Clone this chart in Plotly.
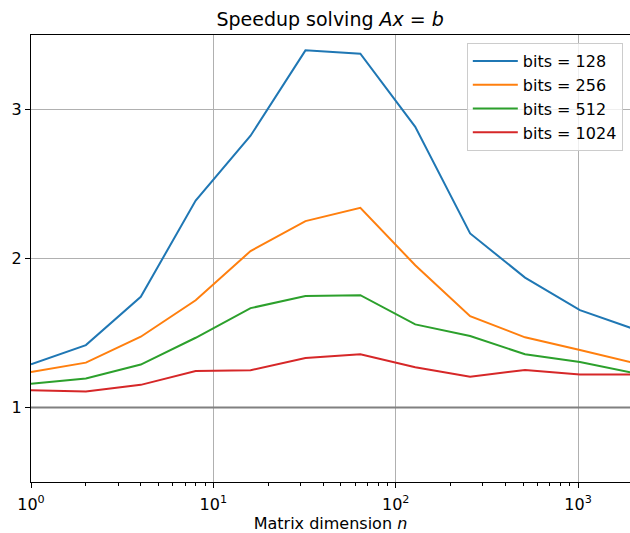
import plotly.graph_objects as go

n_values = [1, 2, 4, 8, 16, 32, 64, 128, 256, 512, 1024, 2048]
series_names = ["bits = 128", "bits = 256", "bits = 512", "bits = 1024"]
speedup_128 = [1.290, 1.419, 1.743, 2.389, 2.824, 3.397, 3.375, 2.884, 2.168, 1.872, 1.653, 1.525]
speedup_256 = [1.239, 1.301, 1.475, 1.720, 2.050, 2.251, 2.340, 1.955, 1.613, 1.471, 1.386, 1.297]
speedup_512 = [1.159, 1.194, 1.288, 1.468, 1.667, 1.749, 1.754, 1.558, 1.480, 1.357, 1.306, 1.230]
speedup_1024 = [1.116, 1.107, 1.152, 1.245, 1.250, 1.332, 1.357, 1.270, 1.207, 1.252, 1.221, 1.221]
colors = ["#1f77b4", "#ff7f0e", "#2ca02c", "#d62728"]
x_tick_vals = [1, 10, 100, 1000]
x_tick_text = ["10<sup>0</sup>", "10<sup>1</sup>", "10<sup>2</sup>", "10<sup>3</sup>"]
x_minor_vals = [m * d for d in [1, 10, 100, 1000] for m in range(2, 10)]
y_tick_vals = [1, 2, 3]

font = "DejaVu Sans"
fig = go.Figure()
for name, ys, c in zip(series_names, [speedup_128, speedup_256, speedup_512, speedup_1024], colors):
    fig.add_trace(go.Scatter(x=n_values, y=ys, mode="lines", name=name, legendgroup=name,
                             line=dict(color=c, width=2)))

fig.add_shape(type="line", xref="paper", x0=0, x1=1, yref="y", y0=1, y1=1,
              line=dict(color="#808080", width=2), layer="above")

fig.update_layout(
    width=630, height=533,
    margin=dict(l=31, r=0, t=35, b=51),
    paper_bgcolor="white", plot_bgcolor="white",
    font=dict(family=font, size=16, color="black"),
    title=dict(text="Speedup solving <i>Ax</i> = <i>b</i>", x=0.524, xanchor="center",
               y=0.964, yanchor="middle", font=dict(size=19, family=font)),
    showlegend=True,
    legend=dict(x=0.988, xanchor="right", y=0.982, yanchor="top",
                bgcolor="rgba(255,255,255,0.8)", bordercolor="#cccccc", borderwidth=1,
                font=dict(size=16, family=font), tracegroupgap=0, itemwidth=45),
    xaxis=dict(type="log", range=[0, 3.285], tickvals=x_tick_vals, ticktext=x_tick_text,
               showgrid=True, gridcolor="#b0b0b0", gridwidth=1,
               showline=True, linecolor="black", linewidth=1, mirror=True,
               ticks="outside", ticklen=5, tickcolor="black", automargin=False,
               tickfont=dict(size=16), ticklabelstandoff=3,
               minor=dict(tickvals=x_minor_vals, ticks="outside", ticklen=3,
                          tickcolor="black", showgrid=False),
               zeroline=False,
               title=dict(text="Matrix dimension <i>n</i>", font=dict(size=16), standoff=4)),
    yaxis=dict(range=[0.5, 3.5], tickvals=y_tick_vals, automargin=False,
               showgrid=True, gridcolor="#b0b0b0", gridwidth=1,
               showline=True, linecolor="black", linewidth=1, tickfont=dict(size=16),
               ticks="outside", ticklen=5, tickcolor="black", zeroline=False),
)

fig.write_html("out.html", config={"displayModeBar": False},
               post_script="document.body.style.margin='0';")
